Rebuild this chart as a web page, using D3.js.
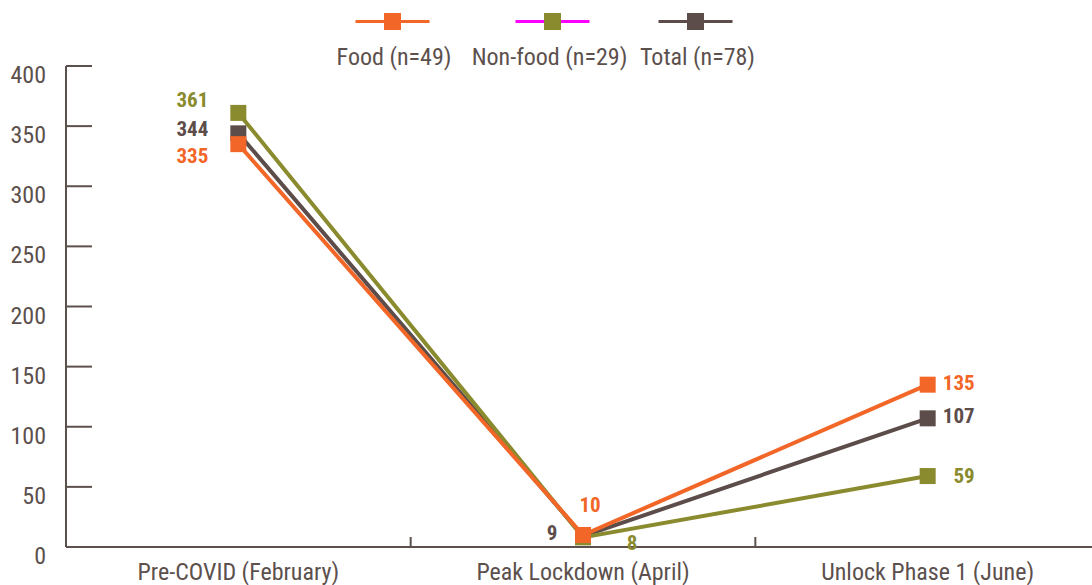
<!DOCTYPE html>
<html><head><meta charset="utf-8">
<script src="https://cdn.jsdelivr.net/npm/d3@7"></script>
<style>
body{margin:0;background:#fff;}
text{font-family:"Roboto Condensed",Roboto,sans-serif;}
</style></head>
<body><svg id="c" width="1092" height="585"></svg>
<script>
const categories = ["Pre-COVID (February)", "Peak Lockdown (April)", "Unlock Phase 1 (June)"];
const seriesNames = ["Food (n=49)", "Non-food (n=29)", "Total (n=78)"];
const foodValues = [335, 10, 135];
const nonFoodValues = [361, 8, 59];
const totalValues = [344, 9, 107];
const yTicks = [0, 50, 100, 150, 200, 250, 300, 350, 400];

const textCol = "#5c504d";
const colors = {food:"#f26727", nonfood:"#8a8a2e", total:"#5c4d4a"};
const svg = d3.select("#c");
const x = d3.scaleBand().domain(categories).range([66, 1100]);
const y = d3.scaleLinear().domain([0, 400]).range([547, 66]);
const cx = d => x(d) + x.bandwidth()/2;

// y axis
svg.append("line").attr("x1",66).attr("x2",66).attr("y1",y(400)).attr("y2",y(0)).attr("stroke",textCol).attr("stroke-width",2);
yTicks.forEach(t=>{
  if (t>0) svg.append("line").attr("x1",66).attr("x2",92).attr("y1",y(t)).attr("y2",y(t)).attr("stroke",textCol).attr("stroke-width",2);
  svg.append("text").attr("x",46).attr("y",y(t)+17).attr("text-anchor","end").attr("font-size",24).attr("fill",textCol).text(t);
});
// x axis
svg.append("line").attr("x1",66).attr("x2",1092).attr("y1",y(0)).attr("y2",y(0)).attr("stroke",textCol).attr("stroke-width",2);
categories.slice(1).forEach(c=>{
  svg.append("line").attr("x1",x(c)).attr("x2",x(c)).attr("y1",y(0)-10).attr("y2",y(0)).attr("stroke",textCol).attr("stroke-width",2);
});
categories.forEach(c=>{
  svg.append("text").attr("x",cx(c)).attr("y",580).attr("text-anchor","middle").attr("font-size",24).attr("fill",textCol).text(c);
});

const series = [
  {key:"total", vals: totalValues, color: colors.total},
  {key:"nonfood", vals: nonFoodValues, color: colors.nonfood},
  {key:"food", vals: foodValues, color: colors.food}
];
const line = d3.line().x((d,i)=>cx(categories[i])).y(d=>y(d));
series.forEach(s=>{
  svg.append("path").attr("d",line(s.vals)).attr("fill","none").attr("stroke",s.color).attr("stroke-width",4);
});
series.forEach(s=>{
  s.vals.forEach((v,i)=>{
    svg.append("rect").attr("x",cx(categories[i])-8).attr("y",y(v)-8).attr("width",16).attr("height",16).attr("fill",s.color);
  });
});

// data labels
const labelPos = {
  food:   [{dx:-30, dy:19, a:"end"}, {dx:7, dy:-23, a:"middle"}, {dx:47, dy:5, a:"end"}],
  nonfood:[{dx:-30, dy:-6, a:"end"}, {dx:49, dy:13, a:"middle"}, {dx:47, dy:7, a:"end"}],
  total:  [{dx:-30, dy:3, a:"end"}, {dx:-31, dy:4, a:"middle"}, {dx:47, dy:5, a:"end"}]
};
series.forEach(s=>{
  s.vals.forEach((v,i)=>{
    const p = labelPos[s.key][i];
    svg.append("text").attr("x",cx(categories[i])+p.dx).attr("y",y(v)+p.dy)
      .attr("text-anchor",p.a).attr("font-size",21).attr("font-weight","bold").attr("fill",s.color).text(v);
  });
});

// legend
const legend = [
  {name: seriesNames[0], line: colors.food, mark: colors.food, cx: 392.5},
  {name: seriesNames[1], line: "#ff00ff", mark: colors.nonfood, cx: 552.5},
  {name: seriesNames[2], line: colors.total, mark: colors.total, cx: 695.5}
];
const labelCx = [394, 549.5, 697.5];
legend.forEach((l,i)=>{
  svg.append("line").attr("x1",l.cx-37).attr("x2",l.cx+37).attr("y1",21.5).attr("y2",21.5).attr("stroke",l.line).attr("stroke-width",3);
  svg.append("rect").attr("x",l.cx-8.5).attr("y",13).attr("width",17).attr("height",17).attr("fill",l.mark);
  svg.append("text").attr("x",labelCx[i]).attr("y",65).attr("text-anchor","middle").attr("font-size",24).attr("fill",textCol).text(l.name);
});
</script></body></html>
